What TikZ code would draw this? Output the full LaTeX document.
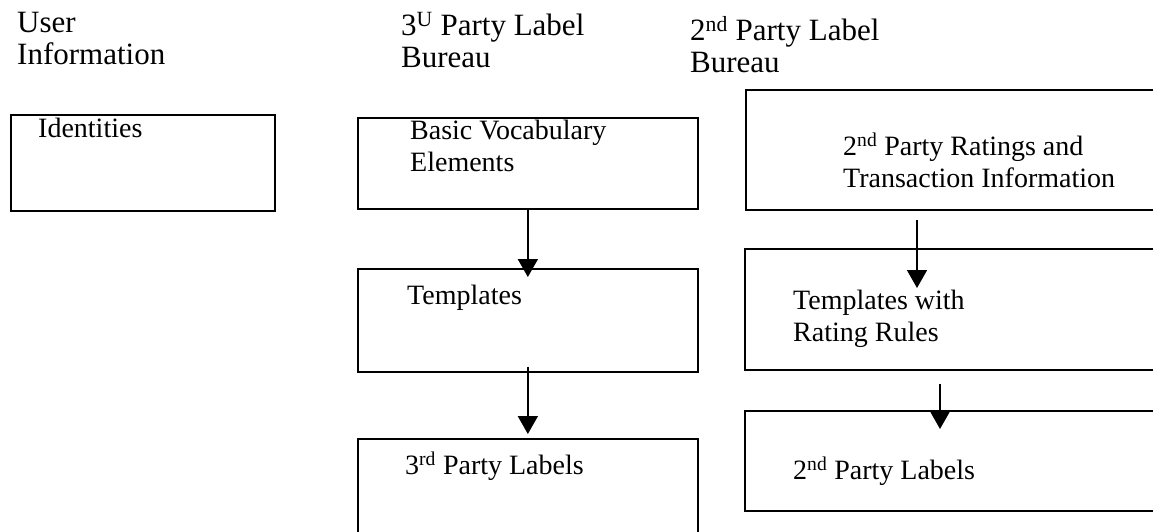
\documentclass[tikz,border=0pt]{standalone}
\usepackage{fontspec}
\setmainfont{Liberation Serif}
\usetikzlibrary{arrows.meta}

\begin{document}
\begin{tikzpicture}[x = 1pt, y = -1pt,
    box/.style = {draw, line width = 1.7pt, anchor = north west, inner sep = 0pt},
    head/.style = {anchor = north west, inner sep = 0pt, align = left, font = \fontsize{31}{32}\selectfont},
    txt/.style = {anchor = north west, inner sep = 0pt, align = left, font = \fontsize{28}{32}\selectfont},
    arr/.style = {line width = 1.7pt, -{Triangle[width = 20pt, length = 18pt]}}]
    \useasboundingbox (0, 0) rectangle (1153, 532);
    % HEADINGS
    \node[head] (user) at (17, 12) {User\\Information};
    \node[head] (bureau3) at (401, 12) {3\textsuperscript{U} Party Label\\Bureau};
    \node[head] (bureau2) at (690, 16) {2\textsuperscript{nd} Party Label\\Bureau};
    % BOXES
    \node[box, minimum width = 264pt, minimum height = 96pt] (iden) at (10, 114) {};
    \node[box, minimum width = 340pt, minimum height = 91pt] (vocab) at (357, 117) {};
    \node[box, minimum width = 340pt, minimum height = 103pt] (tpl) at (357, 268) {};
    \node[box, minimum width = 340pt, minimum height = 110pt] (lab3) at (357, 438) {};
    \node[box, minimum width = 430pt, minimum height = 120pt] (rate) at (745, 89) {};
    \node[box, minimum width = 430pt, minimum height = 121pt] (rtpl) at (744, 248) {};
    \node[box, minimum width = 430pt, minimum height = 100pt] (lab2) at (744, 410) {};
    % BOX TEXTS
    \node[txt] (idenT) at (38, 118) {Identities};
    \node[txt] (vocabT) at (410, 120) {Basic Vocabulary\\Elements};
    \node[txt] (tplT) at (407, 285) {Templates};
    \node[txt] (lab3T) at (405, 452) {3\textsuperscript{rd} Party Labels};
    \node[txt] (rateT) at (843, 133) {2\textsuperscript{nd} Party Ratings and\\Transaction Information};
    \node[txt] (rtplT) at (793, 290) {Templates with\\Rating Rules};
    \node[txt] (lab2T) at (793, 457) {2\textsuperscript{nd} Party Labels};
    % ARROWS
    \draw[arr] (vocab.south) -- ([yshift = -9pt]tpl.north);
    \draw[arr] ([yshift = 6pt]tpl.south) -- ([yshift = 4pt]lab3.north);
    \draw[arr] ([shift = {(172, 9)}]rate.south west) -- ([shift = {(173, 40)}]rtpl.north west);
    \draw[arr] ([shift = {(196, 13)}]rtpl.south west) -- ([shift = {(196, 19)}]lab2.north west);
\end{tikzpicture}
\end{document}
